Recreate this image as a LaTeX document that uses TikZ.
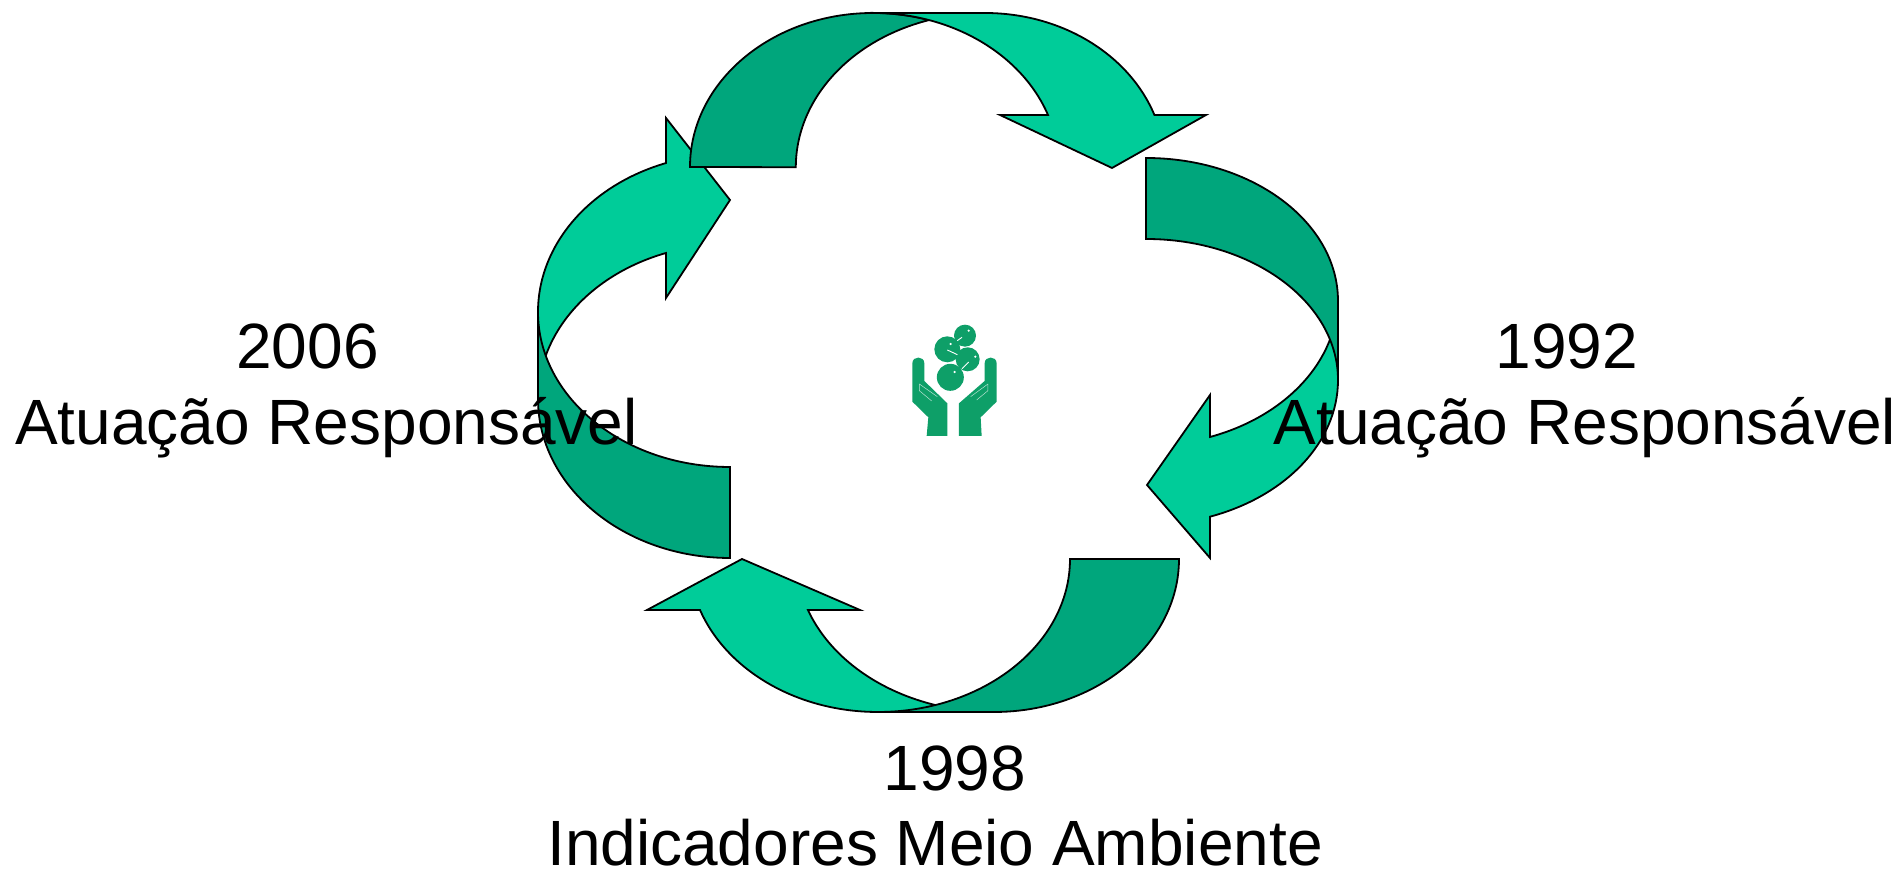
\documentclass[tikz,border=0pt]{standalone}
\usepackage{fontspec}
\setmainfont{Liberation Sans}
\definecolor{lightg}{HTML}{00CC99}
\definecolor{darkg}{HTML}{00A67C}
\definecolor{iconG}{HTML}{0E9F68}
\tikzset{
  lightribbon/.style={fill=lightg,draw=black,line width=1.8pt,line join=miter},
  darkribbon/.style={fill=darkg,draw=black,line width=1.8pt,line join=miter},
  caption/.style={font=\fontsize{64}{75.5}\selectfont,align=center,anchor=base,inner sep=0pt},
  hand/.style={fill=iconG,draw=none},
  ball/.style={fill=iconG,draw=none},
  shine/.style={draw=white,line width=0.9pt},
  crease/.style={draw=white!70!iconG,line width=0.5pt}
}
\begin{document}
\begin{tikzpicture}[x=1pt,y=1pt]
\useasboundingbox (0,0) rectangle (1899,869);
\fill[white] (0,0) rectangle (1899,869);
% light arrows (left, right, bottom)
\draw[lightribbon] (538,557) arc[start angle=180,end angle=109.5,x radius=192pt,y radius=158pt]
  -- (666,751) -- (730,669) -- (666,571) -- (666,616)
  arc[start angle=109.5,end angle=180,x radius=192pt,y radius=155pt] -- cycle;
\draw[lightribbon] (1338,572) -- (1338,489)
  arc[start angle=0,end angle=-70.5,x radius=192pt,y radius=145pt]
  -- (1210,311) -- (1147,384) -- (1210,474) -- (1210,432)
  arc[start angle=-70.5,end angle=0,x radius=192pt,y radius=148pt] -- cycle;
\draw[lightribbon] (878,157) -- (994,157)
  arc[start angle=-90,end angle=-160,x radius=198pt,y radius=155pt]
  -- (860,259) -- (742,310) -- (647,259) -- (700,259)
  arc[start angle=-160,end angle=-90,x radius=189pt,y radius=155pt] -- cycle;
% dark ribbons
\draw[darkribbon] (690,702) arc[start angle=180,end angle=90,x radius=183pt,y radius=154pt]
  arc[start angle=90,end angle=72.5,x radius=186pt,y radius=154pt]
  arc[start angle=107.2,end angle=180,x radius=189pt,y radius=154pt] -- cycle;
\draw[darkribbon] (1146,711) arc[start angle=90,end angle=0,x radius=192pt,y radius=143pt]
  -- (1338,489) arc[start angle=0,end angle=90,x radius=192pt,y radius=141pt] -- cycle;
\draw[darkribbon] (1179,310) arc[start angle=0,end angle=-90,x radius=185pt,y radius=153pt]
  -- (878,157) arc[start angle=-90,end angle=0,x radius=192pt,y radius=153pt] -- cycle;
\draw[darkribbon] (730,311) arc[start angle=-90,end angle=-180,x radius=192pt,y radius=159pt]
  -- (538,557) arc[start angle=180,end angle=270,x radius=192pt,y radius=155pt] -- cycle;
% top light arrow, over its dark ribbon
\draw[lightribbon] (873,856) -- (985,856)
  arc[start angle=90,end angle=19.7,x radius=180pt,y radius=154pt]
  -- (1206,754) -- (1112,701) -- (1000,754) -- (1048,754)
  arc[start angle=19.7,end angle=90,x radius=186pt,y radius=154pt] -- cycle;
% emblem
\begin{scope}[shift={(860,569)},x=0.3333pt,y=-0.3333pt]
  \fill[hand] (157,190) .. controls (157,167) and (193,167) .. (193,190)
    -- (193,243) -- (262,310) -- (262,408) -- (200,408) -- (205,352) -- (157,305) -- cycle;
  \fill[hand] (410,190) .. controls (410,167) and (374,167) .. (374,190)
    -- (374,243) -- (297,310) -- (297,408) -- (365,408) -- (362,352) -- (410,305) -- cycle;
  \draw[crease] (178,252) -- (178,272) -- (215,303);
  \draw[crease] (178,252) -- (232,290);
  \draw[crease] (384,252) -- (384,272) -- (350,300);
  \draw[crease] (384,252) -- (332,290);
  \fill[ball] (315,107) circle[radius=11pt];
  \fill[ball] (262,148) circle[radius=13pt];
  \fill[ball] (323,178) circle[radius=12pt];
  \fill[ball] (271,232) circle[radius=13.5pt];
  \draw[shine] (262,150) -- (292,164);
  \draw[shine] (306,206) -- (326,186);
  \draw[shine] (292,122) -- (306,112);
  \fill[white] (326,92) circle[radius=1.2pt];
  \fill[white] (272,132) circle[radius=1.2pt];
  \fill[white] (346,170) circle[radius=1.2pt];
  \fill[white] (284,216) circle[radius=1.2pt];
\end{scope}
% captions
\node[caption] (left) at (326.5,424.5) {2006\hspace*{38pt}\\Atuação Responsável};
\node[caption] (right) at (1585,424.5) {1992\hspace*{36pt}\\Atuação Responsável};
\node[caption] (bottom) at (955,3) {1998\\Indicadores Meio Ambiente\hspace*{40pt}};
\end{tikzpicture}
\end{document}
